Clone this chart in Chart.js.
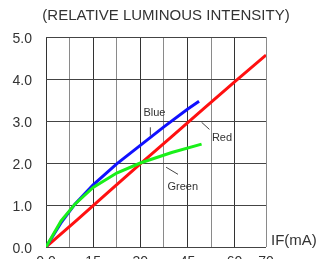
<!DOCTYPE html>
<html>
<head>
<meta charset="utf-8">
<script src="https://cdn.jsdelivr.net/npm/chart.js@4.4.1/dist/chart.umd.min.js"></script>
<style>
  html, body { margin: 0; padding: 0; background: #fff; overflow: hidden; }
  #wrap { width: 316px; height: 280px; }
</style>
</head>
<body>
<div id="wrap"><canvas id="chart"></canvas></div>
<script>
// current (mA) vs relative luminous intensity
const redCurrent = [0, 10, 20, 30, 40, 50, 60, 70];
const redValues = [0, 0.65, 1.32, 1.98, 2.63, 3.28, 3.93, 4.57];

const blueCurrent = [0, 5, 9.2, 15, 22.5, 30, 37.5, 45, 48.7];
const blueValues = [0, 0.6, 1.02, 1.48, 1.98, 2.42, 2.86, 3.28, 3.47];

const greenCurrent = [0, 4.8, 9.2, 15, 22.5, 30, 40, 49.5];
const greenValues = [0, 0.62, 1.02, 1.42, 1.76, 2.0, 2.25, 2.45];

const xTicks = [0, 7.5, 15, 22.5, 30, 37.5, 45, 52.5, 60, 70];
const xLabels = ["0.0", "", "15", "", "30", "", "45", "", "60", "70"];
const yLabels = ["0.0", "1.0", "2.0", "3.0", "4.0", "5.0"];

// curve names with a short leader line, placed in data units
const curveNotes = [
  { text: "Blue", x: 34.5, y: 3.2, line: [33.2, 2.85, 33.2, 2.65] },
  { text: "Red", x: 56, y: 2.6, line: [49.5, 2.97, 52, 2.8] },
  { text: "Green", x: 43.5, y: 1.43, line: [38.2, 1.9, 42, 1.73] }
];

const toPoints = (xs, ys) => xs.map((x, i) => ({ x: x, y: ys[i] }));

const textColor = "#333";
const font = "Liberation Sans, Arial, sans-serif";

// title, axis name and curve names
const notesPlugin = {
  id: "notes",
  afterDraw(chart) {
    const ctx = chart.ctx;
    const xs = chart.scales.x, ys = chart.scales.y;
    ctx.save();
    ctx.fillStyle = textColor;
    ctx.textBaseline = "middle";
    ctx.font = "15px " + font;
    ctx.textAlign = "center";
    ctx.fillText("(RELATIVE LUMINOUS INTENSITY)", 166, 16);
    ctx.textAlign = "left";
    ctx.font = "15px " + font;
    ctx.fillText("IF(mA)", 271, 241);

    ctx.font = "11px " + font;
    ctx.textAlign = "center";
    ctx.strokeStyle = "#444";
    ctx.lineWidth = 1;
    curveNotes.forEach(n => {
      ctx.fillText(n.text, xs.getPixelForValue(n.x), ys.getPixelForValue(n.y));
      ctx.beginPath();
      ctx.moveTo(xs.getPixelForValue(n.line[0]), ys.getPixelForValue(n.line[1]));
      ctx.lineTo(xs.getPixelForValue(n.line[2]), ys.getPixelForValue(n.line[3]));
      ctx.stroke();
    });
    ctx.restore();
  }
};

const lineStyle = { borderWidth: 3, pointRadius: 0, tension: 0, fill: false };

new Chart(document.getElementById("chart"), {
  type: "line",
  data: {
    datasets: [
      Object.assign({ label: "Green", data: toPoints(greenCurrent, greenValues), borderColor: "#19f019" }, lineStyle),
      Object.assign({ label: "Blue", data: toPoints(blueCurrent, blueValues), borderColor: "#1010ff" }, lineStyle),
      Object.assign({ label: "Red", data: toPoints(redCurrent, redValues), borderColor: "#ff1010" }, lineStyle)
    ]
  },
  plugins: [notesPlugin],
  options: {
    responsive: true,
    maintainAspectRatio: false,
    animation: false,
    layout: { padding: { top: 37, right: 50, left: 0, bottom: 0 } },
    plugins: { legend: { display: false }, tooltip: { enabled: false }, title: { display: false } },
    scales: {
      x: {
        type: "linear",
        min: 0,
        max: 70,
        afterBuildTicks: s => { s.ticks = xTicks.map(v => ({ value: v })); },
        afterFit: s => { s.height = 33; },
        grid: {
          drawTicks: false,
          color: c => (c.index % 2 === 1 ? "#8a8a8a" : "#333"),
          lineWidth: 1
        },
        border: { display: false },
        ticks: {
          padding: 7,
          autoSkip: false,
          maxRotation: 0,
          color: textColor,
          font: { size: 14, family: font },
          callback: (v, i) => xLabels[i]
        }
      },
      y: {
        min: 0,
        max: 5,
        afterBuildTicks: s => { s.ticks = yLabels.map((l, i) => ({ value: i })); },
        afterFit: s => { s.width = 46; },
        grid: { drawTicks: false, color: "#444", lineWidth: 1 },
        border: { display: false },
        ticks: {
          padding: 14,
          labelOffset: 2,
          color: textColor,
          font: { size: 14, family: font },
          callback: (v, i) => yLabels[i]
        }
      }
    }
  }
});
</script>
</body>
</html>
